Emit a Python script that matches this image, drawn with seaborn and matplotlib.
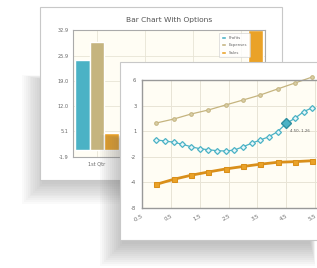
import matplotlib
matplotlib.use("Agg")
import matplotlib.pyplot as plt
from matplotlib.patches import Rectangle
import numpy as np
import pandas as pd
import seaborn as sns

# ---------------- data ----------------
quarters = ["1st Qtr", "2nd Qtr", "3rd Qtr", "4th Qtr"]
profits = [24.7, 21.7, 13.0, 15.0]
expenses = [29.6, 16.0, 18.0, 19.0]
sales = [4.7, 9.0, 11.0, 32.9]
bar_series = ["Profits", "Expenses", "Sales"]
bar_yticks = [-1.9, 5.1, 12.0, 19.0, 25.9, 32.9]

line_x_coarse = [0, 0.6, 1.2, 1.8, 2.4, 3.0, 3.6, 4.2, 4.8, 5.4]
line_x_fine = [0, 0.3, 0.6, 0.9, 1.2, 1.5, 1.8, 2.1, 2.4, 2.7, 3.0,
               3.3, 3.6, 3.9, 4.2, 4.5, 4.8, 5.1, 5.4]
tan_y = [1.30, 1.73, 2.28, 2.72, 3.27, 3.81, 4.36, 5.02, 5.67, 6.33]
teal_y = [-0.56, -0.67, -0.81, -1.03, -1.30, -1.51, -1.63, -1.73, -1.77,
          -1.66, -1.30, -0.92, -0.56, -0.20, 0.35, 1.26, 1.81, 2.53, 2.97]
orange_y = [-5.41, -4.86, -4.42, -4.06, -3.73, -3.46, -3.21, -3.00, -2.93, -2.83]
front_xticks = [-0.5, 0.5, 1.5, 2.5, 3.5, 4.5, 5.5]
front_ytick_labels = ["-8", "-4", "-2", "1", "3", "6"]
highlight_index = 15

TEAL = "#4bb2c5"
TAN = "#c5b47f"
ORANGE = "#eaa228"
ORANGE_DARK = "#d98f1a"
GRID_BG = "#fffdf4"
GRID = "#e8e4d6"
TICK = "#666666"

W, H = 317, 268
sns.set_theme(style="white")
plt.rcParams["font.family"] = ["DejaVu Sans"]

fig = plt.figure(figsize=(W / 100, H / 100), dpi=100)
fig.patch.set_facecolor("white")


def fr(x0, y0, x1, y1):
    """pixel box (top-left origin) -> figure fraction rect"""
    return [x0 / W, 1 - y1 / H, (x1 - x0) / W, (y1 - y0) / H]


def card(x0, y0, x1, y1, z):
    r = fr(x0, y0, x1, y1)
    fig.patches.append(Rectangle((r[0], r[1]), r[2], r[3], transform=fig.transFigure,
                                 facecolor="white", edgecolor="#c8c8c8", lw=0.8,
                                 zorder=z))


def shadow(x0, y0, x1, y1, z, strength=0.035, steps=12, grow=2.0):
    # soft drop shadow towards the lower left
    for i in range(steps):
        g = grow * (steps - i)
        r = fr(x0 - g * 0.9, y0 + 20 - g * 0.2, x1 - 20 + g * 0.2, y1 + g * 0.9)
        fig.patches.append(Rectangle((r[0], r[1]), r[2], r[3], transform=fig.transFigure,
                                     facecolor="#6a6a6a", edgecolor="none",
                                     alpha=strength, zorder=z))


# ---------------- back card: bar chart ----------------
shadow(44, 60, 282, 182, 0.2, strength=0.03)
card(40, 7, 282, 180, 0.5)

ax1 = fig.add_axes(fr(73, 30, 265, 157))
ax1.set_zorder(1)
df = pd.DataFrame({
    "quarter": quarters * 3,
    "series": [bar_series[0]] * 4 + [bar_series[1]] * 4 + [bar_series[2]] * 4,
    "value": profits + expenses + sales,
})
sns.barplot(data=df, x="quarter", y="value", hue="series", order=quarters,
            hue_order=bar_series, palette=[TEAL, TAN, ORANGE], saturation=1,
            width=0.92, ax=ax1, legend=False)
ax1.set_facecolor(GRID_BG)
ax1.set_ylim(-1.9, 32.9)
ax1.set_xlim(-0.5, 3.5)
ax1.set_yticks(bar_yticks)
ax1.set_yticklabels([f"{v:.1f}" for v in bar_yticks])
ax1.set_xlabel("")
ax1.set_ylabel("")
ax1.grid(True, color=GRID, lw=0.6)
ax1.set_axisbelow(True)
ax1.tick_params(axis="both", length=0, labelsize=3.6, colors=TICK, pad=3)
for s in ax1.spines.values():
    s.set_color("#aaaaaa")
    s.set_linewidth(0.8)
ax1.set_title("Bar Chart With Options", fontsize=5.4, color="#555555", pad=6)
handles = [Rectangle((0, 0), 1, 1, facecolor=c) for c in [TEAL, TAN, ORANGE]]
leg = ax1.legend(handles, bar_series, loc="upper right", fontsize=2.8,
                 frameon=True, handlelength=1.2, handleheight=0.8,
                 borderpad=0.6, labelspacing=0.9, bbox_to_anchor=(0.93, 0.99))
leg.get_frame().set_edgecolor("#cccccc")
leg.get_frame().set_linewidth(0.5)
for t in leg.get_texts():
    t.set_color(TICK)

# ---------------- front card: line chart ----------------
shadow(124, 120, 330, 242, 1.5, strength=0.04, steps=12, grow=2.2)
card(120, 62, 330, 240, 1.6)

ax2 = fig.add_axes(fr(142, 80, 344, 208))
ax2.set_zorder(2)
ax2.set_facecolor(GRID_BG)
sns.lineplot(x=line_x_coarse, y=tan_y, ax=ax2, color=TAN, lw=0.9, marker="o",
             markersize=2.6, markeredgecolor=TAN, markerfacecolor="#d9cfa8",
             clip_on=False)
sns.lineplot(x=line_x_fine, y=teal_y, ax=ax2, color=TEAL, lw=0.9, marker="D",
             markersize=3.0, markeredgecolor=TEAL, markerfacecolor="#e6f6f9",
             markeredgewidth=0.9, clip_on=False)
sns.lineplot(x=line_x_coarse, y=orange_y, ax=ax2, color=ORANGE_DARK, lw=2.0,
             marker="s", markersize=3.6, markeredgecolor=ORANGE_DARK,
             markerfacecolor=ORANGE, clip_on=False)
hx, hy = line_x_fine[highlight_index], teal_y[highlight_index]
ax2.plot([hx], [hy], marker="D", markersize=5, color=TEAL, markerfacecolor=TEAL,
         markeredgecolor="#2f8fa0", clip_on=False)
ax2.annotate(f"{hx:.2f}, {hy:.2f}", (hx, hy), xytext=(3, -6),
             textcoords="offset points", fontsize=2.8, color="#555555")
ax2.set_xlim(-0.5, 6.5)
ax2.set_ylim(-8, 6)
ax2.set_xticks(front_xticks)
ax2.set_xticklabels([f"{v:.1f}" for v in front_xticks], rotation=30,
                    ha="right", rotation_mode="anchor")
ax2.set_yticks(np.linspace(-8, 6, len(front_ytick_labels)))
ax2.set_yticklabels(front_ytick_labels)
ax2.grid(True, color=GRID, lw=0.7)
ax2.set_axisbelow(True)
ax2.tick_params(axis="both", length=0, labelsize=3.8, colors=TICK, pad=4)
for s in ax2.spines.values():
    s.set_color("#999999")
    s.set_linewidth(1.0)

fig.savefig("out.png", dpi=100, facecolor="white")
